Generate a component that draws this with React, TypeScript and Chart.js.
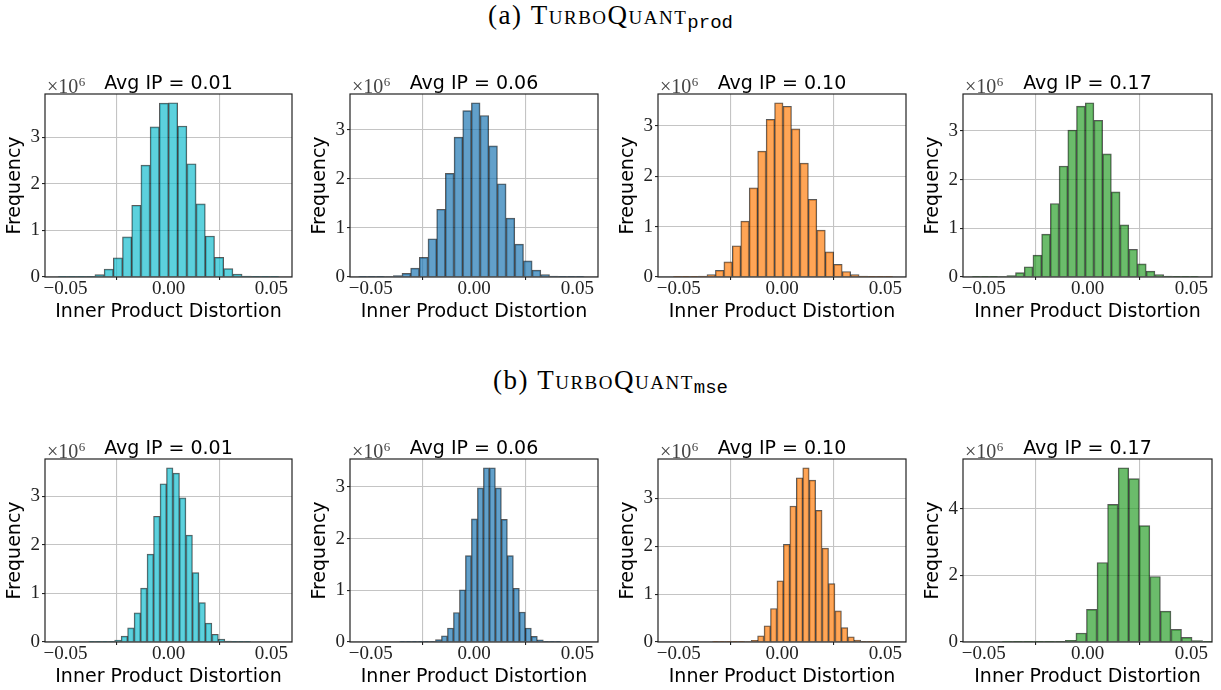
import React, { useEffect, useRef } from "react";
import { Chart, registerables } from "chart.js";

Chart.register(...registerables);

// ---------- data (frequencies in units of 10^6) ----------
const AVG_IP_LABELS = ["0.01", "0.06", "0.10", "0.17"];
const SERIES_COLORS = [
  "rgba(23,190,207,0.7)",
  "rgba(31,119,180,0.7)",
  "rgba(255,127,14,0.7)",
  "rgba(44,160,44,0.7)",
];

// (a) TurboQuant_prod
const PROD_BIN_START = [-0.05364, -0.05586, -0.05267, -0.0557];
const PROD_BIN_WIDTH = [0.00447, 0.0042, 0.00409, 0.0042];
const PROD_COUNTS_IP001 = [
  0.001, 0.002, 0.005, 0.015, 0.05, 0.17, 0.41, 0.86, 1.54, 2.4, 3.22, 3.73,
  3.74, 3.24, 2.43, 1.57, 0.88, 0.42, 0.18, 0.06, 0.02, 0.005, 0.002, 0.001,
];
const PROD_COUNTS_IP006 = [
  0.001, 0.002, 0.004, 0.01, 0.03, 0.075, 0.18, 0.4, 0.78, 1.38, 2.11, 2.85,
  3.39, 3.55, 3.29, 2.67, 1.9, 1.2, 0.67, 0.33, 0.14, 0.05, 0.02, 0.006, 0.002,
  0.001,
];
const PROD_COUNTS_IP010 = [
  0.001, 0.003, 0.007, 0.02, 0.05, 0.13, 0.3, 0.62, 1.11, 1.77, 2.5, 3.13, 3.46,
  3.39, 2.94, 2.26, 1.54, 0.93, 0.5, 0.25, 0.11, 0.05, 0.02, 0.007, 0.003, 0.001,
];
const PROD_COUNTS_IP017 = [
  0.001, 0.002, 0.004, 0.01, 0.03, 0.09, 0.21, 0.45, 0.88, 1.51, 2.28, 3.02,
  3.51, 3.58, 3.22, 2.53, 1.75, 1.07, 0.57, 0.27, 0.12, 0.05, 0.02, 0.006, 0.002,
  0.001,
];

// (b) TurboQuant_mse
const MSE_BIN_START = [-0.03877, -0.03605, -0.03365, -0.04122];
const MSE_BIN_WIDTH = [0.00315, 0.0029, 0.00312, 0.00509];
const MSE_COUNTS_IP001 = [
  0.001, 0.002, 0.004, 0.012, 0.04, 0.12, 0.29, 0.6, 1.11, 1.81, 2.59, 3.26,
  3.59, 3.48, 2.97, 2.2, 1.43, 0.81, 0.39, 0.16, 0.06, 0.02, 0.006, 0.002, 0.001,
];
const MSE_COUNTS_IP006 = [
  0.001, 0.001, 0.002, 0.003, 0.006, 0.015, 0.045, 0.12, 0.27, 0.57, 1.01, 1.67,
  2.38, 2.98, 3.37, 3.37, 2.98, 2.37, 1.67, 1.04, 0.58, 0.27, 0.11, 0.04, 0.013,
  0.004, 0.001,
];
const MSE_COUNTS_IP010 = [
  0.001, 0.001, 0.002, 0.003, 0.005, 0.01, 0.035, 0.13, 0.34, 0.7, 1.28, 2.04,
  2.84, 3.43, 3.64, 3.38, 2.75, 1.96, 1.22, 0.65, 0.3, 0.11, 0.04, 0.015, 0.005,
  0.001,
];
const MSE_COUNTS_IP017 = [
  0.001, 0.002, 0.003, 0.005, 0.01, 0.02, 0.05, 0.27, 0.98, 2.39, 4.14, 5.24,
  4.91, 3.5, 1.97, 0.93, 0.38, 0.14, 0.04, 0.005,
];

const PROD_COUNTS = [PROD_COUNTS_IP001, PROD_COUNTS_IP006, PROD_COUNTS_IP010, PROD_COUNTS_IP017];
const MSE_COUNTS = [MSE_COUNTS_IP001, MSE_COUNTS_IP006, MSE_COUNTS_IP010, MSE_COUNTS_IP017];

const X_TICKS = [-0.05, 0, 0.05];
const X_MIN = -0.06;
const X_MAX = 0.06;

// ---------- layout ----------
const PANEL_LEFT = [45, 350, 658, 963];
const PANEL_RIGHT = [292, 598, 906, 1212];
const ROW_TOP = [94, 459];
const ROW_BOTTOM = [277, 642];
const PAD_L = 45;
const PAD_T = 35;
const PAD_R = 12;
const PAD_B = 50;

const framePlugin = {
  id: "frameAndMultiplier",
  afterDraw(chart: any) {
    const { ctx, chartArea: a } = chart;
    ctx.save();
    ctx.strokeStyle = "#222";
    ctx.lineWidth = 1.2;
    ctx.strokeRect(a.left, a.top, a.right - a.left, a.bottom - a.top);
    ctx.fillStyle = "#444";
    ctx.textAlign = "left";
    ctx.textBaseline = "alphabetic";
    ctx.font = "20px 'Liberation Serif'";
    const base = "×10";
    ctx.fillText(base, a.left + 2, a.top - 1.5);
    const w = ctx.measureText(base).width;
    ctx.font = "13px 'Liberation Serif'";
    ctx.fillText("6", a.left + 2 + w + 0.5, a.top - 8.5);
    ctx.restore();
  },
};

function fmtX(v: number) {
  if (Math.abs(v) < 1e-9) return "0.00";
  return (v < 0 ? "\u2212" : "") + Math.abs(v).toFixed(2);
}

type PanelProps = {
  left: number;
  right: number;
  top: number;
  bottom: number;
  counts: number[];
  start: number;
  width: number;
  color: string;
  title: string;
};

function Panel({ left, right, top, bottom, counts, start, width, color, title }: PanelProps) {
  const ref = useRef<HTMLCanvasElement>(null);
  const cw = right - left + PAD_L + PAD_R;
  const ch = bottom - top + PAD_T + PAD_B;

  useEffect(() => {
    if (!ref.current) return;
    const data = counts.map((c, i) => ({ x: start + (i + 0.5) * width, y: c }));
    const ymax = Math.max(...counts) * 1.05;
    const step = ymax > 5 ? 2 : 1;
    const yTicks: number[] = [];
    for (let v = 0; v <= ymax + 1e-9; v += step) yTicks.push(v);

    const chart = new Chart(ref.current, {
      type: "bar",
      data: {
        datasets: [
          {
            data: data as any,
            backgroundColor: color,
            borderColor: "rgba(0,0,0,0.65)",
            borderWidth: 1,
            barPercentage: 1,
            categoryPercentage: 1,
          },
        ],
      },
      options: {
        animation: false,
        responsive: false,
        devicePixelRatio: 1,
        layout: { padding: { left: 0, right: PAD_R, top: 0, bottom: 0 } },
        plugins: {
          legend: { display: false },
          tooltip: { enabled: false },
          title: {
            display: true,
            text: title,
            fullSize: false,
            color: "#000",
            font: { family: "'DejaVu Sans'", size: 19, weight: "normal", lineHeight: 1 },
            padding: { top: 15.5, bottom: 0.5 },
          },
        },
        scales: {
          x: {
            type: "linear",
            min: X_MIN,
            max: X_MAX,
            offset: false,
            afterFit: (s: any) => {
              s.height = PAD_B;
            },
            afterBuildTicks: (s: any) => {
              s.ticks = X_TICKS.map((v) => ({ value: v }));
            },
            ticks: {
              color: "#222",
              padding: 0,
              maxRotation: 0,
              autoSkip: false,
              font: { family: "'Liberation Serif'", size: 19, lineHeight: 1 },
              callback: (v: any) => fmtX(Number(v)),
            },
            grid: {
              color: "#c4c4c4",
              lineWidth: 1.1,
              drawTicks: true,
              tickLength: 3,
              tickColor: "#222",
            },
            border: { display: false },
            title: {
              display: true,
              text: "Inner Product Distortion",
              color: "#000",
              font: { family: "'DejaVu Sans'", size: 19, lineHeight: 1 },
              padding: { top: 0, bottom: 5 },
            },
          },
          y: {
            type: "linear",
            min: 0,
            max: ymax,
            afterFit: (s: any) => {
              s.width = PAD_L;
            },
            afterBuildTicks: (s: any) => {
              s.ticks = yTicks.map((v) => ({ value: v }));
            },
            ticks: {
              color: "#222",
              padding: 2,
              font: { family: "'Liberation Serif'", size: 19, lineHeight: 1 },
              callback: (v: any) => String(Math.round(Number(v))),
            },
            grid: {
              color: "#c4c4c4",
              lineWidth: 1.1,
              drawTicks: true,
              tickLength: 3,
              tickColor: "#222",
            },
            border: { display: false },
            title: {
              display: true,
              text: "Frequency",
              color: "#000",
              font: { family: "'DejaVu Sans'", size: 19, lineHeight: 1 },
              padding: { top: 6, bottom: 0 },
            },
          },
        },
      } as any,
      plugins: [framePlugin],
    });
    return () => chart.destroy();
  }, []);

  return (
    <div
      style={{
        position: "absolute",
        left: left - PAD_L,
        top: top - PAD_T,
        width: cw,
        height: ch,
      }}
    >
      <canvas ref={ref} width={cw} height={ch} style={{ display: "block" }} />
    </div>
  );
}

function SectionTitle({ letter, sub, top }: { letter: string; sub: string; top: number }) {
  return (
    <div
      style={{
        position: "absolute",
        left: 0,
        top,
        width: 1221,
        textAlign: "center",
        fontFamily: "'Liberation Serif'",
        fontSize: 27,
        lineHeight: "27px",
        color: "#000",
        whiteSpace: "nowrap",
      }}
    >
      <span style={{ letterSpacing: "1.5px" }}>{`(${letter}) `}</span>
      <span style={{ fontVariant: "small-caps", letterSpacing: "1.5px" }}>TurboQuant</span>
      <span
        style={{
          fontFamily: "'Liberation Mono'",
          fontSize: 19,
          verticalAlign: "-4px",
        }}
      >
        {sub}
      </span>
    </div>
  );
}

export default function App() {
  const rows = [
    { counts: PROD_COUNTS, starts: PROD_BIN_START, widths: PROD_BIN_WIDTH },
    { counts: MSE_COUNTS, starts: MSE_BIN_START, widths: MSE_BIN_WIDTH },
  ];
  return (
    <div
      style={{
        position: "absolute",
        left: 0,
        top: 0,
        width: 1221,
        height: 690,
        overflow: "hidden",
        background: "#fff",
      }}
    >
      <SectionTitle letter="a" sub="prod" top={2} />
      <SectionTitle letter="b" sub="mse" top={367} />
      {rows.map((row, r) =>
        AVG_IP_LABELS.map((ip, c) => (
          <Panel
            key={`${r}-${c}`}
            left={PANEL_LEFT[c]}
            right={PANEL_RIGHT[c]}
            top={ROW_TOP[r]}
            bottom={ROW_BOTTOM[r]}
            counts={row.counts[c]}
            start={row.starts[c]}
            width={row.widths[c]}
            color={SERIES_COLORS[c]}
            title={`Avg IP = ${ip}`}
          />
        ))
      )}
    </div>
  );
}
